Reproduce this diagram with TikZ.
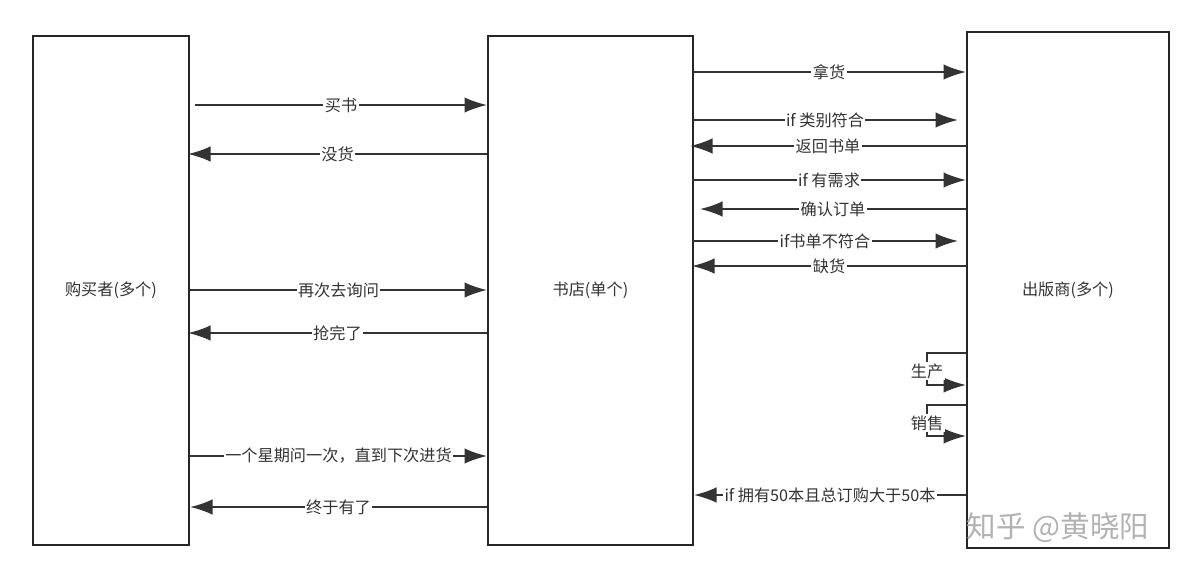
\documentclass[tikz,border=0pt]{standalone}
\usepackage{fontspec}
\setmainfont{Noto Sans CJK SC}
\usetikzlibrary{arrows.meta}
\begin{document}
\begin{tikzpicture}[x=0.025cm,y=-0.025cm,
  box/.style={draw=black!85,line width=1.3pt,inner sep=0,anchor=north west},
  conn/.style={draw=black!80,line width=1.3pt,-{Latex[length=16pt,width=11pt]}},
  lbl/.style={fill=white,inner sep=1pt,font=\fontsize{11.5pt}{13pt}\selectfont,text=black!80}]
\useasboundingbox (0,0) rectangle (1200,579);
\node[box,minimum width=156*0.025cm,minimum height=509*0.025cm] (buyer) at (32,35) {};
\node[box,minimum width=205*0.025cm,minimum height=509*0.025cm] (shop) at (487,35) {};
\node[box,minimum width=202*0.025cm,minimum height=516*0.025cm] (pub) at (966,31) {};
\node[lbl] (tb) at (buyer.center) {购买者(多个)};
\node[lbl] (ts) at (shop.center) {书店(单个)};
\node[lbl] (tp) at (pub.center) {出版商(多个)};
% left side
\coordinate (a1) at (195,105); \draw[conn] (a1) -- (shop.west |- a1) node[lbl,midway] {买书};
\coordinate (a2) at (188,154); \draw[conn] (shop.west |- a2) -- (a2) node[lbl,midway] {没货};
\coordinate (a3) at (190,290); \draw[conn] (a3) -- (shop.west |- a3) node[lbl,midway] {再次去询问};
\coordinate (a4) at (188,333); \draw[conn] (shop.west |- a4) -- (a4) node[lbl,midway] {抢完了};
\coordinate (a5) at (190,456); \draw[conn] (a5) -- (shop.west |- a5) node[lbl,midway] {一个星期问一次，直到下次进货};
\coordinate (a6) at (190,507); \draw[conn] (shop.west |- a6) -- (a6) node[lbl,midway] {终于有了};
% right side
\coordinate (b1) at (692,72); \draw[conn] (b1) -- (pub.west |- b1) node[lbl,midway] {拿货};
\coordinate (b2) at (692,120); \coordinate (b2e) at (958,120); \draw[conn] (b2) -- (b2e) node[lbl,midway] {if 类别符合};
\coordinate (b3) at (690,146); \draw[conn] (pub.west |- b3) -- (b3) node[lbl,midway] {返回书单};
\coordinate (b4) at (692,180); \draw[conn] (b4) -- (pub.west |- b4) node[lbl,midway] {if 有需求};
\coordinate (b5) at (700,209); \draw[conn] (pub.west |- b5) -- (b5) node[lbl,midway] {确认订单};
\coordinate (b6) at (692,241); \coordinate (b6e) at (958,241); \draw[conn] (b6) -- (b6e) node[lbl,midway] {if书单不符合};
\coordinate (b7) at (692,266); \draw[conn] (pub.west |- b7) -- (b7) node[lbl,midway] {缺货};
\coordinate (b8) at (694,495); \draw[conn] (pub.west |- b8) -- (b8) node[lbl,midway] {if 拥有50本且总订购大于50本};
% self loops
\coordinate (l1) at (966,353); \coordinate (l1e) at (966,385);
\draw[conn] (l1) -- (927,353) -- (927,385) -- (l1e);
\node[lbl] (t1) at (927,371) {生产};
\coordinate (l2) at (966,405); \coordinate (l2e) at (966,436);
\draw[conn] (l2) -- (927,405) -- (927,436) -- (l2e);
\node[lbl] (t2) at (927,423) {销售};
\node[text=black!30,font=\fontsize{21pt}{23pt}\selectfont] (wm) at (1058,528) {知乎 @黄晓阳};
\end{tikzpicture}
\end{document}
